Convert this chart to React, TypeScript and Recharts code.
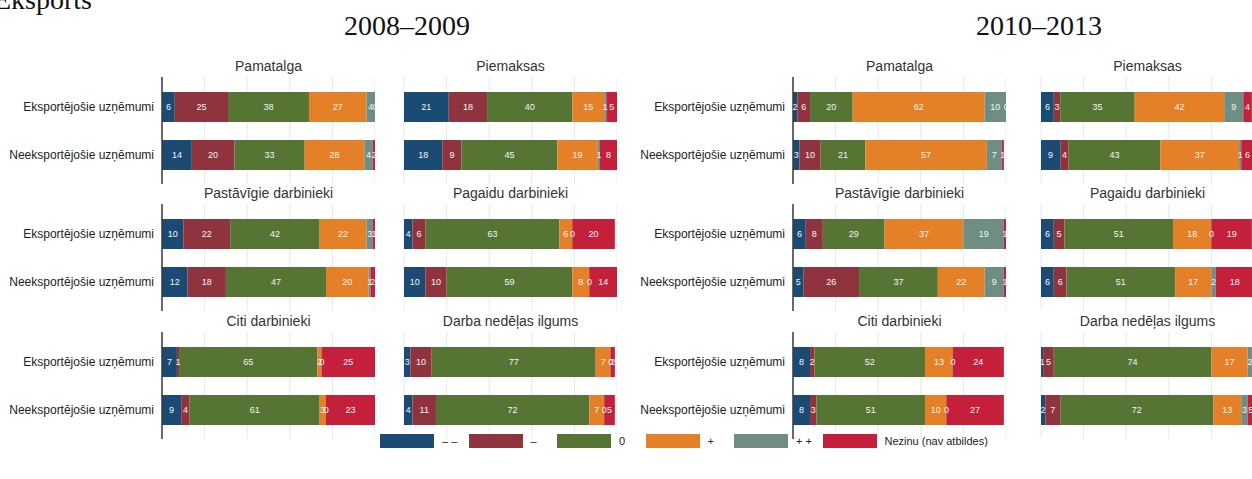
import React from "react";
import { BarChart, Bar, XAxis, YAxis, CartesianGrid, LabelList } from "recharts";

// ---------- data ----------
const groups = ["Eksportējošie uzņēmumi", "Neeksportējošie uzņēmumi"];
const seriesKeys = ["mm", "m", "z", "p", "pp", "nz"];
const seriesLabels = ["– –", "–", "0", "+", "+ +", "Nezinu (nav atbildes)"];
const seriesColors = ["#1b4a72", "#8f343e", "#567535", "#e38028", "#6f8e83", "#c41f3b"];
const periods = ["2008–2009", "2010–2013"];
const topics = [
  "Pamatalga",
  "Piemaksas",
  "Pastāvīgie darbinieki",
  "Pagaidu darbinieki",
  "Citi darbinieki",
  "Darba nedēļas ilgums",
];
const xTicks = [0, 20, 40, 60, 80, 100];

// 2008–2009: [exporting row, non-exporting row], series order: – –, –, 0, +, + +, Nezinu
const p1Pamatalga = [[6, 25, 38, 27, 4, 0], [14, 20, 33, 28, 4, 2]];
const p1Piemaksas = [[21, 18, 40, 15, 1, 5], [18, 9, 45, 19, 1, 8]];
const p1Pastavigie = [[10, 22, 42, 22, 3, 1], [12, 18, 47, 20, 1, 2]];
const p1Pagaidu = [[4, 6, 63, 6, 0, 20], [10, 10, 59, 8, 0, 14]];
const p1Citi = [[7, 1, 65, 2, 0, 25], [9, 4, 61, 3, 0, 23]];
const p1Darba = [[3, 10, 77, 7, 0, 2], [4, 11, 72, 7, 0, 5]];

// 2010–2013
const p2Pamatalga = [[2, 6, 20, 62, 10, 0], [3, 10, 21, 57, 7, 1]];
const p2Piemaksas = [[6, 3, 35, 42, 9, 4], [9, 4, 43, 37, 1, 6]];
const p2Pastavigie = [[6, 8, 29, 37, 19, 1], [5, 26, 37, 22, 9, 1]];
const p2Pagaidu = [[6, 5, 51, 18, 0, 19], [6, 6, 51, 17, 2, 18]];
const p2Citi = [[8, 2, 52, 13, 0, 24], [8, 3, 51, 10, 0, 27]];
const p2Darba = [[1, 5, 74, 17, 2, 2], [2, 7, 72, 13, 3, 5]];

const periodValues = [
  [p1Pamatalga, p1Piemaksas, p1Pastavigie, p1Pagaidu, p1Citi, p1Darba],
  [p2Pamatalga, p2Piemaksas, p2Pastavigie, p2Pagaidu, p2Citi, p2Darba],
];

// ---------- layout ----------
const colLefts = [162, 404, 793, 1041];
const rowTops = [77, 204, 332];
const plotW = 213;
const plotH = 107;
const yLabelW = 160;
const sans = "'Liberation Sans', Arial, Helvetica, sans-serif";
const serif = "'Liberation Serif', 'Times New Roman', serif";

function buildRows(values: number[][]) {
  return groups.map((g, i) => {
    const row: any = { group: g };
    seriesKeys.forEach((k, j) => {
      row[k] = values[i][j];
    });
    return row;
  });
}

const GroupTick = (props: any) => {
  const { x, y, payload } = props;
  return (
    <text x={x} y={y} dy={4} textAnchor="end" fontSize={12} fill="#222" fontFamily={sans}>
      {payload.value}
    </text>
  );
};

function Panel({ values, showLabels }: { values: number[][]; showLabels: boolean }) {
  const data = buildRows(values);
  const yW = showLabels ? yLabelW : 0;
  return (
    <BarChart
      width={yW + plotW + 2}
      height={plotH}
      data={data}
      layout="vertical"
      margin={{ top: 0, right: 0, bottom: 0, left: 2 }}
    >
      <CartesianGrid horizontal={false} stroke="#e2eaec" strokeWidth={1} />
      <XAxis type="number" domain={[0, 100]} ticks={xTicks} hide allowDataOverflow />
      <YAxis
        type="category"
        dataKey="group"
        width={yW}
        tickLine={false}
        axisLine={{ stroke: "#3a3a3a", strokeWidth: 1.5 }}
        tick={showLabels ? <GroupTick /> : false}
        padding={{ top: 6, bottom: 5 }}
      />
      {seriesKeys.map((k, j) => (
        <Bar
          key={k}
          dataKey={k}
          stackId="s"
          fill={seriesColors[j]}
          barSize={30}
          minPointSize={0.3}
          isAnimationActive={false}
        >
          <LabelList
            dataKey={k}
            position="center"
            fill="#f4f4f4"
            fontSize={9}
            fontFamily={sans}
          />
        </Bar>
      ))}
    </BarChart>
  );
}

export default function App() {
  const panels: React.ReactNode[] = [];
  periods.forEach((_, p) => {
    topics.forEach((topic, t) => {
      const row = Math.floor(t / 2);
      const inCol = t % 2;
      const col = p * 2 + inCol;
      const showLabels = inCol === 0;
      const left = colLefts[col] - (showLabels ? yLabelW : 0) - 2;
      panels.push(
        <div key={`t-${p}-${t}`}
          style={{
            position: "absolute",
            left: colLefts[col],
            top: rowTops[row] - 19,
            width: plotW,
            textAlign: "center",
            fontSize: 14,
            lineHeight: "16px",
            color: "#333",
            fontFamily: sans,
            whiteSpace: "nowrap",
          }}
        >
          {topic}
        </div>
      );
      panels.push(
        <div key={`c-${p}-${t}`} style={{ position: "absolute", left, top: rowTops[row] }}>
          <Panel values={periodValues[p][t]} showLabels={showLabels} />
        </div>
      );
    });
  });

  return (
    <div
      style={{
        position: "absolute",
        left: 0,
        top: 0,
        width: 1252,
        height: 479,
        overflow: "hidden",
        background: "#fff",
        fontFamily: sans,
      }}
    >
      <svg width={1252} height={479} style={{ position: "absolute", left: 0, top: 0 }}>
        <text x={-6} y={9} fontSize={28} fontFamily={serif} fill="#111">
          Eksports
        </text>
        <text x={407} y={35} fontSize={28} fontFamily={serif} fill="#111" textAnchor="middle">
          {periods[0]}
        </text>
        <text x={1039} y={35} fontSize={28} fontFamily={serif} fill="#111" textAnchor="middle">
          {periods[1]}
        </text>
      </svg>
      {panels}
      <div
        style={{
          position: "absolute",
          left: 380,
          top: 434,
          display: "flex",
          alignItems: "center",
          height: 14,
        }}
      >
        {seriesLabels.map((lab, j) => (
          <div
            key={lab}
            style={{
              display: "flex",
              alignItems: "center",
              width: j < seriesLabels.length - 1 ? 88.5 : undefined,
              flex: "none",
            }}
          >
            <div style={{ width: 54, height: 14, background: seriesColors[j] }} />
            <div
              style={{
                marginLeft: 8,
                fontSize: 11,
                lineHeight: "14px",
                color: "#222",
                whiteSpace: "nowrap",
              }}
            >
              {lab}
            </div>
          </div>
        ))}
      </div>
    </div>
  );
}
